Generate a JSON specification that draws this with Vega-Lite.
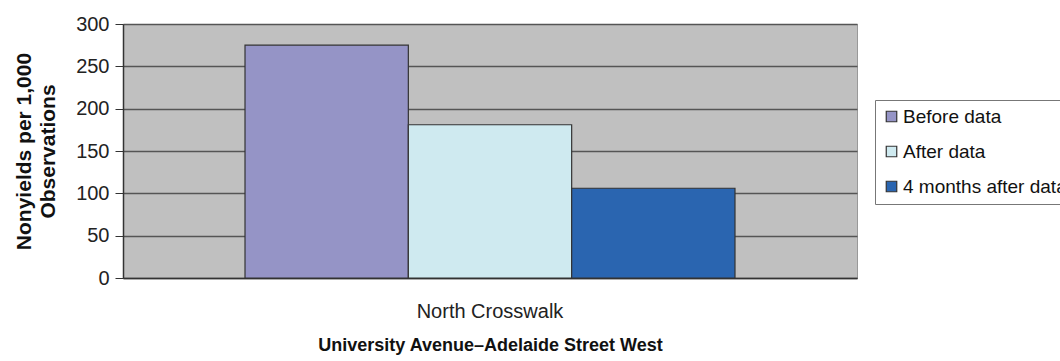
{
  "$schema": "https://vega.github.io/schema/vega-lite/v6.json",
  "autosize": {"type": "none"},
  "padding": {"left": 123, "top": 24, "right": 203, "bottom": 83},
  "width": 734,
  "height": 254,
  "background": "white",
  "config": {
    "font": "Liberation Sans",
    "view": {"fill": "#c0c0c0", "stroke": "#999999", "strokeWidth": 1}
  },
  "data": {
    "values": [
      {"location": "North Crosswalk", "series": "Before data", "value": 275},
      {"location": "North Crosswalk", "series": "After data", "value": 181},
      {"location": "North Crosswalk", "series": "4 months after data", "value": 106}
    ]
  },
  "mark": {"type": "bar", "stroke": "#333333", "strokeWidth": 1.2},
  "encoding": {
    "x": {
      "field": "location",
      "type": "nominal",
      "scale": {"paddingInner": 0, "paddingOuter": 0.249},
      "axis": {
        "title": "University Avenue\u2013Adelaide Street West",
        "titleFont": "Liberation Sans",
        "titleFontSize": 18,
        "titleFontWeight": "bold",
        "titleColor": "#111111",
        "titlePadding": 15,
        "labelAngle": 0,
        "labelFontSize": 20,
        "labelColor": "#222222",
        "labelPadding": 23,
        "ticks": false,
        "domainColor": "#333333",
        "domainWidth": 1.5
      }
    },
    "xOffset": {
      "field": "series",
      "type": "nominal",
      "sort": ["Before data", "After data", "4 months after data"],
      "scale": {"paddingInner": 0, "paddingOuter": 0}
    },
    "y": {
      "field": "value",
      "type": "quantitative",
      "scale": {"domain": [0, 300], "nice": false},
      "axis": {
        "title": ["Nonyields per 1,000", "Observations"],
        "titleFontSize": 21,
        "titleFontWeight": "bold",
        "titleColor": "#111111",
        "titleLineHeight": 24,
        "titlePadding": 17,
        "values": [0, 50, 100, 150, 200, 250, 300],
        "labelFontSize": 20,
        "labelColor": "#222222",
        "labelPadding": 6,
        "tickSize": 8,
        "tickColor": "#333333",
        "domainColor": "#333333",
        "domainWidth": 1.5,
        "grid": true,
        "gridColor": "#555555",
        "gridWidth": 1.5
      }
    },
    "color": {
      "field": "series",
      "type": "nominal",
      "sort": ["Before data", "After data", "4 months after data"],
      "scale": {
        "domain": ["Before data", "After data", "4 months after data"],
        "range": ["#9594c6", "#cfeaf0", "#2a65b0"]
      },
      "legend": {
        "orient": "none",
        "legendX": 752,
        "legendY": 76,
        "title": null,
        "symbolType": "square",
        "symbolSize": 110,
        "symbolStrokeColor": "#333333",
        "symbolStrokeWidth": 1.2,
        "symbolOpacity": 1,
        "labelFontSize": 19,
        "labelLimit": 0,
        "labelColor": "#111111",
        "labelOffset": 2,
        "rowPadding": 15,
        "padding": 7,
        "strokeColor": "#777777",
        "fillColor": "white"
      }
    }
  }
}
